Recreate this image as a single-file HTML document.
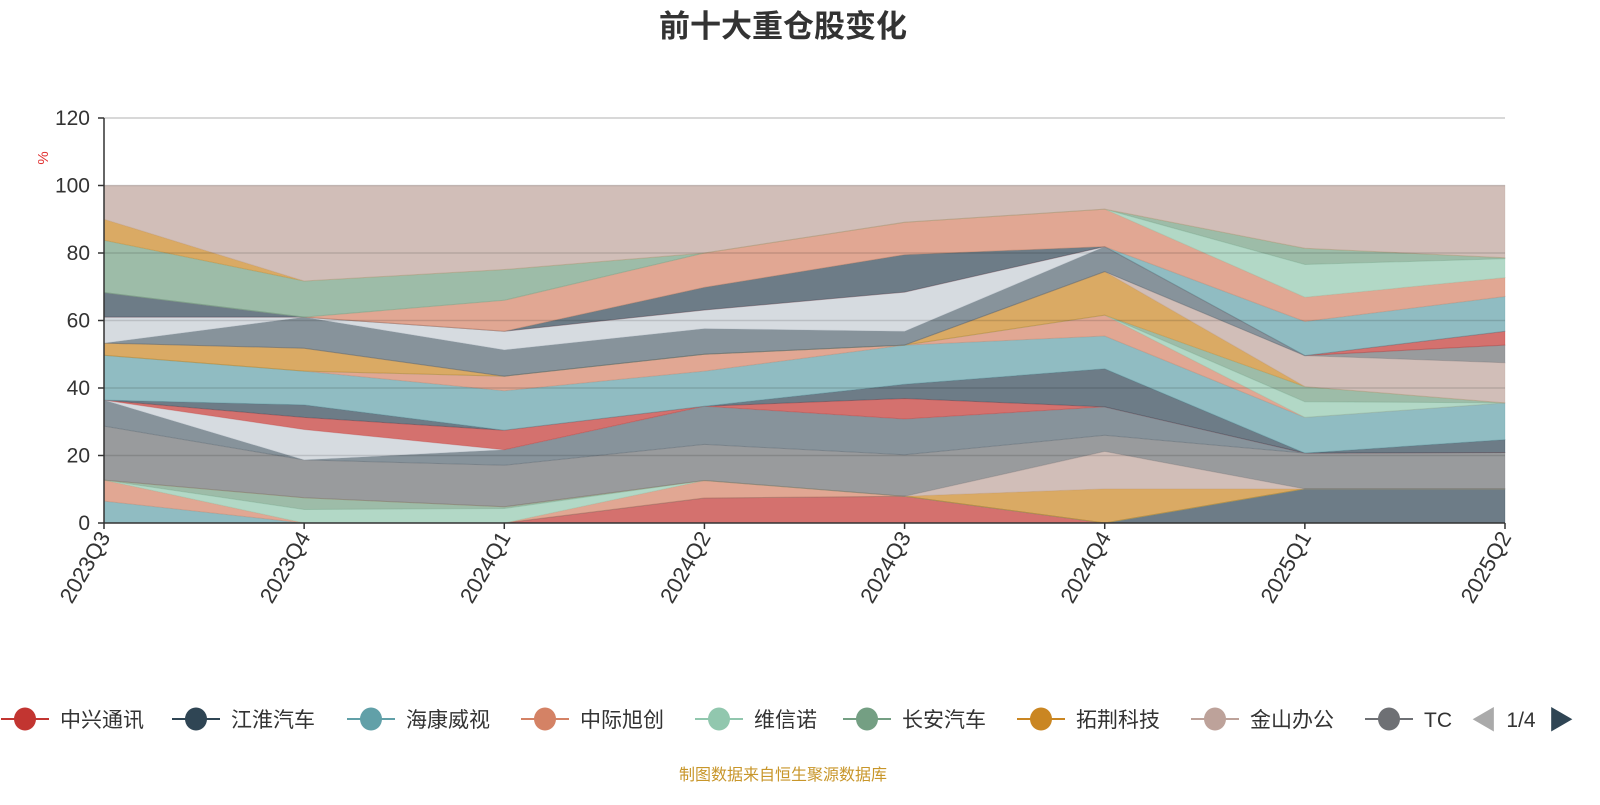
<!DOCTYPE html>
<html><head><meta charset="utf-8">
<style>
body{margin:0;background:#fff;}
svg text{font-family:"Liberation Sans","Noto Sans CJK SC",sans-serif;}
</style></head>
<body>
<svg id="chart" width="1600" height="800" viewBox="0 0 1600 800" xmlns="http://www.w3.org/2000/svg">
<text x="783" y="37" text-anchor="middle" font-size="31" font-weight="bold" fill="#333">前十大重仓股变化</text>
<g id="plot"></g>
<g id="grid"></g>
<g id="axes"></g>
<text transform="translate(48,158) rotate(-90)" text-anchor="middle" font-size="15" fill="#e03030">%</text>
<g id="legend"></g>
<text x="1471" y="729" font-size="26" fill="#aaa">◀</text>
<text x="1521" y="727" text-anchor="middle" font-size="21" fill="#333">1/4</text>
<text x="1548" y="729" font-size="26" fill="#2f4554">▶</text>
<text x="783" y="780" text-anchor="middle" font-size="16" fill="#c8962a">制图数据来自恒生聚源数据库</text>
</svg>
<script>
const categories = ["2023Q3","2023Q4","2024Q1","2024Q2","2024Q3","2024Q4","2025Q1","2025Q2"];
const yTicks = [0,20,40,60,80,100,120];
const legendNames = ["中兴通讯","江淮汽车","海康威视","中际旭创","维信诺","长安汽车","拓荆科技","金山办公","TC"];
const palette = ["#c23531","#2f4554","#61a0a8","#d48265","#91c7ae","#749f83","#ca8622","#bda29a","#6e7074","#546570","#c4ccd3"];
// series values in stack order (bottom to top)
const s00 = [0,0,0,7.4,7.9,0,0,0];
const s01 = [0,0,0,0,0,0,10.1,10.1];
const s02 = [6.5,0,0,0,0,0,0,0];
const s03 = [6.2,0,0,5.2,0,0,0,0];
const s04 = [0,4,4.3,0,0,0,0,0];
const s05 = [0,3.5,0.5,0,0,0,0,0];
const s06 = [0,0,0,0,0,10.1,0,0];
const s07 = [0,0,0,0,0,11.1,0,0];
const s08 = [16,11.2,12.3,10.7,12.3,4.8,10.6,10.8];
const s09 = [7.7,0,4.6,11.3,10.6,8.4,0,0];
const s10 = [0,9,0,0,0,0,0,0];
const s11 = [0,3.6,5.8,0,6.1,0,0,0];
const s12 = [0,3.7,0,0,4.2,11.3,0,3.8];
const s13 = [13.3,10,11.7,10.4,11.6,9.7,10.6,10.9];
const s14 = [0,0,4.3,5,0,6.2,0,0];
const s15 = [0,0,0,0,0,0,4.6,0];
const s16 = [0,0,0,0,0,0,4.5,0];
const s17 = [3.6,6.8,0,0,0,12.9,0,0];
const s18 = [0,0,0,0,0,0,9.2,11.9];
const s19 = [0,0,0,0,0,0,0,5.2];
const s20 = [0,9.2,7.8,7.6,4.1,7.4,0,0];
const s21 = [7.7,0,5.5,5.5,11.6,0,0,0];
const s22 = [0,0,0,0,0,0,0,4.1];
const s23 = [7.3,0,0,6.7,11.1,0,0,0];
const s24 = [0,0,0,0,0,0,10.1,10.3];
const s25 = [0,0,9.2,10.2,9.6,11.1,7.2,5.6];
const s26 = [0,0,0,0,0,0,9.7,5.6];
const s27 = [15.5,10.7,9.1,0,0,0,4.8,0.3];
const s28 = [6.2,0,0,0,0,0,0,0];
const s29 = [10,28.3,24.9,20,10.9,7,18.6,21.4];
const seriesValues = [s00,s01,s02,s03,s04,s05,s06,s07,s08,s09,s10,s11,s12,s13,s14,s15,s16,s17,s18,s19,s20,s21,s22,s23,s24,s25,s26,s27,s28,s29];

const NS="http://www.w3.org/2000/svg";
const X0=104,X1=1505,Y0=523,Y1=118,YMAX=120;
function xPos(i){return X0+(X1-X0)*i/(categories.length-1);}
function yPos(v){return Y0-(Y0-Y1)*v/YMAX;}
function mk(tag,attrs,parent){const e=document.createElementNS(NS,tag);for(const k in attrs)e.setAttribute(k,attrs[k]);parent.appendChild(e);return e;}

const plot=document.getElementById('plot');
let base=categories.map(()=>0);
seriesValues.forEach((vals,si)=>{
  const top=base.map((b,i)=>b+vals[i]);
  let d="";
  top.forEach((t,i)=>{d+=(i?"L":"M")+xPos(i).toFixed(1)+","+yPos(t).toFixed(1);});
  for(let i=base.length-1;i>=0;i--)d+="L"+xPos(i).toFixed(1)+","+yPos(base[i]).toFixed(1);
  d+="Z";
  const c=palette[si%palette.length];
  const p=mk('path',{d:d,fill:c,'fill-opacity':0.7,stroke:c,'stroke-opacity':0.25,'stroke-width':1},plot);
  
  
  base=top;
});

const grid=document.getElementById('grid');
yTicks.forEach(t=>{
  if(t===0)return;
  const l=mk('line',{x1:X0,x2:X1,y1:yPos(t),y2:yPos(t),stroke:t===120?'#ccc':'rgba(0,0,0,0.13)','stroke-width':1.5},grid);
  
  
});

const axes=document.getElementById('axes');
mk('line',{x1:X0,x2:X0,y1:Y1,y2:Y0,stroke:'#333','stroke-width':1.5},axes);
mk('line',{x1:X0,x2:X1,y1:Y0,y2:Y0,stroke:'#333','stroke-width':1.5},axes);
yTicks.forEach(t=>{
  mk('line',{x1:X0-6,x2:X0,y1:yPos(t),y2:yPos(t),stroke:'#333','stroke-width':1.5},axes);
  const tx=mk('text',{x:X0-14,y:yPos(t)+7,'text-anchor':'end','font-size':21,fill:'#333'},axes);
  tx.textContent=t;
  
  
});
categories.forEach((c,i)=>{
  const x=xPos(i);
  mk('line',{x1:x,x2:x,y1:Y0,y2:Y0+6,stroke:'#333','stroke-width':1.5},axes);
  const tx=mk('text',{transform:'translate('+(x+7)+','+(Y0+14)+') rotate(-60)','text-anchor':'end','font-size':22,fill:'#333'},axes);
  tx.textContent=c;
  
  
});

const legend=document.getElementById('legend');
const legendX=[25,196,371,545,719,867,1041,1215,1389];
legendNames.forEach((n,i)=>{
  const g=mk('g',{},legend);
  
  
  const cx=legendX[i],cy=719,col=palette[i];
  mk('line',{x1:cx-24,x2:cx+24,y1:cy,y2:cy,stroke:col,'stroke-width':2},g);
  mk('ellipse',{cx:cx,cy:cy,rx:11,ry:11.5,fill:col},g);
  const t=mk('text',{x:cx+35,y:cy+8,'font-size':21,fill:'#333'},g);
  t.textContent=n;
});
</script>
</body></html>
